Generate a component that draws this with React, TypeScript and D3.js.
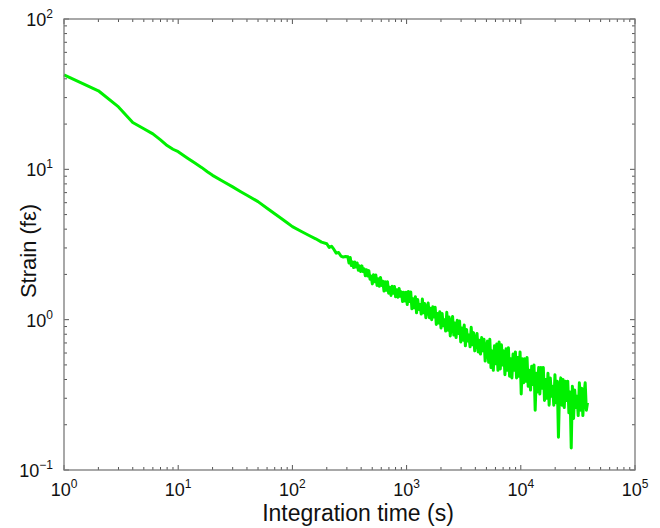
import React from 'react'
import * as d3 from 'd3'

// integration time (s) and strain (fε)
const tau = [
  1, 2, 3, 4, 5, 6, 7, 8, 9, 10, 12, 14, 16, 18, 20, 25, 30, 35, 40, 50, 60, 70, 80, 90, 100, 120, 140, 160, 180,
  200, 210, 220, 231, 242, 254, 266, 279, 292,
  306, 313, 321, 328, 336, 344, 352, 360, 369, 378, 387, 396, 406, 415, 425, 435, 446, 456, 467, 478,
  490, 501, 513, 525, 538, 551, 564, 577, 591, 605, 619, 634, 649, 664, 680, 696, 713, 730, 747, 765,
  783, 801, 820, 840, 860, 880, 901, 922, 944, 967, 990,
  1013, 1037, 1062, 1087, 1113, 1139, 1166, 1194, 1222, 1251, 1281, 1311, 1342, 1374, 1407, 1440, 1474, 1509, 1545, 1582,
  1620, 1658, 1697, 1737, 1778, 1820, 1864, 1908, 1953, 2000, 2047, 2096, 2145, 2196, 2248, 2302, 2356, 2412, 2469, 2528,
  2588, 2649, 2712, 2777, 2843, 2910, 2979, 3050, 3122, 3196, 3272, 3350, 3430, 3511, 3594, 3679, 3767, 3856, 3947, 4041,
  4137, 4235, 4335, 4438, 4543, 4651, 4762, 4875, 4991,
  5109, 5230, 5354, 5481, 5611, 5745, 5881, 6020, 6163, 6310, 6459, 6612, 6769, 6930, 7094, 7263, 7435, 7612, 7792, 7977,
  8166, 8360, 8558, 8762, 8969, 9182, 9400, 9623, 9851, 10085, 10324, 10569, 10820, 11077, 11340, 11609, 11884, 12166, 12455, 12750,
  13053, 13363, 13680, 14004, 14337,
  14680, 15025, 15382, 15747, 16120, 16503, 16895, 17295, 17706, 18126, 18556, 18996, 19447, 19908, 20380, 20864, 21359, 21866, 22386, 22916,
  23460, 24016, 24586, 25169, 25767, 26378, 27004, 27644, 28300, 28971, 29658, 30362, 31082, 31820, 32575, 33348, 34139, 34949, 35778, 36627,
  37496, 38385,
]
const strain = [
  42.5, 33.3, 26.0, 20.5, 18.6, 17.2, 15.7, 14.4, 13.6, 13.1, 11.9, 11.0, 10.3, 9.64, 9.12, 8.26, 7.64, 7.13, 6.73, 6.1, 5.51, 5.06, 4.71, 4.41, 4.16, 3.86, 3.63, 3.45, 3.28,
  3.20, 3.02, 3.08, 2.93, 2.77, 2.80, 2.65, 2.61, 2.63,
  2.62, 2.38, 2.59, 2.29, 2.42, 2.22, 2.42, 2.24, 2.38, 2.13, 2.28, 2.09, 2.28, 2.09, 2.18, 1.96, 2.15, 1.95, 2.12, 1.86,
  1.95, 1.73, 1.99, 1.79, 1.98, 1.69, 1.87, 1.67, 1.91, 1.69, 1.80, 1.55, 1.79, 1.57, 1.79, 1.50, 1.64, 1.45, 1.67, 1.50,
  1.66, 1.42, 1.58, 1.41, 1.61, 1.43, 1.53, 1.32, 1.52, 1.33, 1.52,
  1.26, 1.54, 1.32, 1.53, 1.18, 1.38, 1.20, 1.42, 1.11, 1.36, 1.17, 1.26, 1.09, 1.37, 1.11, 1.28, 1.03, 1.20, 1.29, 1.03,
  1.19, 1.00, 1.22, 1.04, 1.21, 0.93, 1.10, 0.95, 1.13, 0.88, 1.10, 0.91, 1.00, 0.84, 1.12, 0.85, 1.04, 0.78, 0.95, 1.05,
  0.79, 0.95, 0.76, 0.99, 0.81, 0.98, 0.71, 0.88, 0.73, 0.92, 0.67, 0.86, 0.72, 0.79, 0.66, 0.89, 0.68, 0.82, 0.62, 0.74,
  0.81, 0.61, 0.73, 0.59, 0.76, 0.62, 0.74, 0.53, 0.65,
  0.72, 0.52, 0.74, 0.48, 0.62, 0.46, 0.67, 0.51, 0.69, 0.46, 0.71, 0.47, 0.68, 0.50, 0.62, 0.43, 0.64, 0.46, 0.65, 0.42,
  0.55, 0.41, 0.59, 0.46, 0.61, 0.41, 0.56, 0.42, 0.61, 0.32, 0.55, 0.38, 0.55, 0.39, 0.56, 0.36, 0.46, 0.34, 0.49, 0.37,
  0.50, 0.25, 0.44, 0.33, 0.48,
  0.32, 0.48, 0.35, 0.48, 0.29, 0.40, 0.30, 0.44, 0.27, 0.41, 0.31, 0.36, 0.27, 0.43, 0.28, 0.39, 0.165, 0.35, 0.41, 0.27,
  0.40, 0.26, 0.39, 0.29, 0.39, 0.24, 0.33, 0.14, 0.36, 0.22, 0.34, 0.26, 0.31, 0.23, 0.38, 0.25, 0.35, 0.23, 0.32, 0.38,
  0.25, 0.28,
]

const xDecades = [0, 1, 2, 3, 4, 5]
const yDecades = [-1, 0, 1, 2]

const W = 660
const H = 528
const m = { left: 64, right: 25, top: 19, bottom: 58 }

export default function App() {
  const x = d3.scaleLog().domain([1, 1e5]).range([m.left, W - m.right])
  const y = d3.scaleLog().domain([0.1, 100]).range([H - m.bottom, m.top])
  const [x0, x1] = x.range()
  const [y0, y1] = y.range()

  const line = d3.line<number>()
    .x((d, i) => x(tau[i]))
    .y((d) => y(d))

  // minor ticks: 2..9 inside every decade
  const minors = (decs: number[]) => {
    const out: number[] = []
    for (let i = 0; i < decs.length - 1; i++)
      for (let k = 2; k <= 9; k++) out.push(k * Math.pow(10, decs[i]))
    return out
  }
  const xMinor = minors(xDecades)
  const yMinor = minors(yDecades)
  const tickCol = '#555'
  const font = '"Liberation Sans", Arial, Helvetica, sans-serif'

  return (
    <svg width={W} height={H} style={{ position: 'absolute', left: 0, top: 0, background: '#fff' }}>
      <path d={line(strain) || ''} fill="none" stroke="#00f000" strokeWidth={3} strokeLinejoin="round" />

      <g stroke={tickCol} strokeWidth={1}>
        {xDecades.map((d) => {
          const px = x(Math.pow(10, d))
          return (
            <g key={'xM' + d}>
              <line x1={px} x2={px} y1={y0} y2={y0 - 5} />
              <line x1={px} x2={px} y1={y1} y2={y1 + 5} />
            </g>
          )
        })}
        {xMinor.map((v) => (
          <g key={'xm' + v}>
            <line x1={x(v)} x2={x(v)} y1={y0} y2={y0 - 3} />
            <line x1={x(v)} x2={x(v)} y1={y1} y2={y1 + 3} />
          </g>
        ))}
        {yDecades.map((d) => {
          const py = y(Math.pow(10, d))
          return (
            <g key={'yM' + d}>
              <line x1={x0} x2={x0 + 5} y1={py} y2={py} />
              <line x1={x1} x2={x1 - 5} y1={py} y2={py} />
            </g>
          )
        })}
        {yMinor.map((v) => (
          <g key={'ym' + v}>
            <line x1={x0} x2={x0 + 3} y1={y(v)} y2={y(v)} />
            <line x1={x1} x2={x1 - 3} y1={y(v)} y2={y(v)} />
          </g>
        ))}
      </g>
      <rect x={x0} y={y1} width={x1 - x0} height={y0 - y1} fill="none" stroke="#7a7a7a" strokeWidth={1.3} />

      <g fontFamily={font} fill="#111">
        {xDecades.map((d) => (
          <text key={'xl' + d} x={x(Math.pow(10, d))} y={y0 + 26} fontSize={18} textAnchor="middle">
            10<tspan dy={-8} fontSize={12}>{d}</tspan>
          </text>
        ))}
        {yDecades.map((d) => (
          <text key={'yl' + d} x={x0 - 11} y={y(Math.pow(10, d)) + 7} fontSize={18} textAnchor="end">
            10<tspan dy={-8} fontSize={12}>{d === -1 ? '\u22121' : d}</tspan>
          </text>
        ))}
        <text x={358} y={521} fontSize={23} textAnchor="middle">Integration time (s)</text>
        <text transform={`translate(36, 251) rotate(-90)`} fontSize={22} textAnchor="middle">Strain (fε)</text>
      </g>
    </svg>
  )
}
